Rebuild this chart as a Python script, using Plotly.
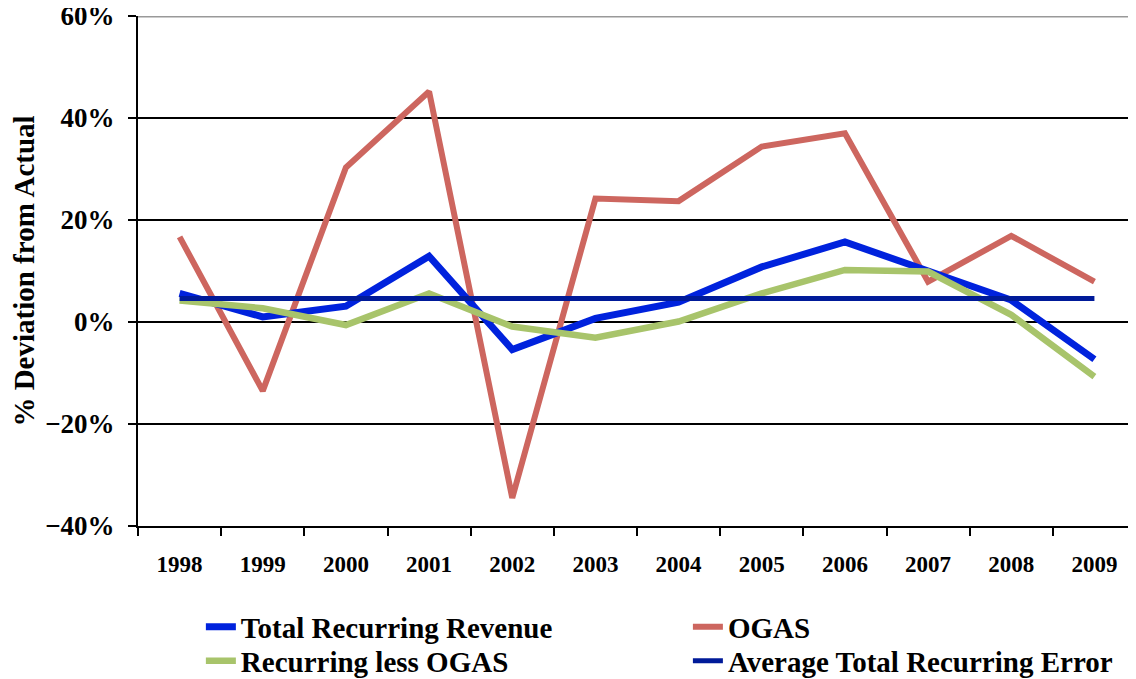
import plotly.graph_objects as go

years = ["1998", "1999", "2000", "2001", "2002", "2003", "2004", "2005", "2006", "2007", "2008", "2009"]
total_recurring = [5.6, 1.0, 3.1, 12.9, -5.4, 0.7, 3.9, 10.8, 15.7, 9.9, 4.3, -7.3]
ogas = [16.7, -13.5, 30.3, 45.2, -34.5, 24.2, 23.7, 34.4, 37.0, 7.9, 16.9, 7.9]
recurring_less_ogas = [4.2, 2.7, -0.6, 5.6, -0.9, -3.1, 0.1, 5.6, 10.2, 9.9, 1.4, -10.7]
avg_total_error = [4.6] * 12

FONT = "Liberation Serif"

fig = go.Figure()
fig.add_trace(go.Scatter(x=years, y=ogas, mode="lines", name="OGAS",
                         line=dict(color="#CD665F", width=6), legend="legend3"))
fig.add_trace(go.Scatter(x=years, y=total_recurring, mode="lines", name="Total Recurring Revenue",
                         line=dict(color="#0022DD", width=7), legend="legend"))
fig.add_trace(go.Scatter(x=years, y=recurring_less_ogas, mode="lines", name="Recurring less OGAS",
                         line=dict(color="#A8C46B", width=6.5), legend="legend2"))
fig.add_trace(go.Scatter(x=years, y=avg_total_error, mode="lines", name="Average Total Recurring Error",
                         line=dict(color="#001A99", width=5), legend="legend4"))

fig.add_shape(type="line", xref="paper", yref="y", x0=0, x1=1, y0=60, y1=60,
              line=dict(color="#999999", width=3), layer="above")

legfont = dict(family=FONT, size=29, color="black", weight="bold")


def leg(x, y):
    return dict(x=x, y=y, xanchor="left", yanchor="middle", orientation="v",
                font=legfont, bgcolor="rgba(0,0,0,0)")


row1 = -(627 - 526) / 510
row2 = -(661 - 526) / 510
fig.update_layout(
    width=1128, height=671,
    margin=dict(l=130, r=0, t=8, b=153, autoexpand=False),
    paper_bgcolor="white", plot_bgcolor="white",
    showlegend=True,
    legend=leg(0.063, row1),
    legend2=leg(0.063, row2),
    legend3=leg(0.551, row1),
    legend4=leg(0.551, row2),
    xaxis=dict(type="category", range=[-0.5, 11.5], tickson="boundaries",
               ticks="outside", ticklen=8, tickwidth=2, tickcolor="black",
               showline=True, linecolor="black", linewidth=2, showgrid=False,
               ticklabelstandoff=16, automargin=False,
               tickfont=dict(family=FONT, size=23, color="black", weight="bold")),
    yaxis=dict(range=[-40, 60], dtick=20, tick0=0, ticksuffix="%",
               ticks="outside", ticklen=8, tickwidth=2, tickcolor="black",
               showline=True, linecolor="black", linewidth=2,
               showgrid=True, gridcolor="black", gridwidth=2,
               zeroline=True, zerolinecolor="black", zerolinewidth=2,
               ticklabelstandoff=8, automargin=False, ticklabeloverflow="allow",
               tickfont=dict(family=FONT, size=27, color="black", weight="bold"),
               title=dict(text="% Deviation from Actual", standoff=8,
                          font=dict(family=FONT, size=29, color="black", weight="bold"))),
)

fig.write_html("out.html")
